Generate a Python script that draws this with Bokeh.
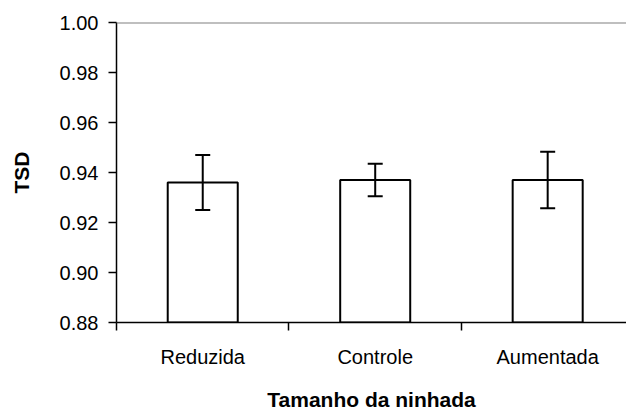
from bokeh.plotting import figure
from bokeh.models import (ColumnDataSource, FixedTicker, Whisker, TeeHead, Span,
                          Range1d, NumeralTickFormatter)
from bokeh.embed import file_html
from bokeh.resources import INLINE

categories = ["Reduzida", "Controle", "Aumentada"]
means = [0.936, 0.937, 0.937]
errors = [0.011, 0.0065, 0.0113]
y_ticks = [0.88, 0.90, 0.92, 0.94, 0.96, 0.98, 1.00]

xs = [i + 0.5 for i in range(len(categories))]
src = ColumnDataSource(dict(
    x=xs, top=means,
    upper=[m + e for m, e in zip(means, errors)],
    lower=[m - e for m, e in zip(means, errors)],
))

FONT = "Liberation Sans"

p = figure(width=626, height=413, output_backend="svg", toolbar_location=None,
           x_range=Range1d(0, 2.957), y_range=Range1d(0.88, 1.00),
           min_border_left=116, min_border_right=0, min_border_top=22,
           min_border_bottom=91)
p.outline_line_color = None
p.xgrid.visible = False
p.ygrid.visible = False
p.background_fill_color = "white"
p.border_fill_color = "white"

p.vbar(x="x", top="top", bottom=0.88, width=0.406, source=src,
       fill_color="white", line_color="black", line_width=2)

w = Whisker(base="x", upper="upper", lower="lower", source=src, level="overlay",
            line_color="black", line_width=2,
            upper_head=TeeHead(size=15, line_color="black", line_width=2),
            lower_head=TeeHead(size=15, line_color="black", line_width=2))
p.add_layout(w)

p.add_layout(Span(location=1.00, dimension="width", line_color="#808080",
                  line_width=2))

# y axis
ya = p.yaxis[0]
ya.ticker = FixedTicker(ticks=y_ticks)
ya.formatter = NumeralTickFormatter(format="0.00")
ya.major_tick_out = 8
ya.major_tick_in = 0
ya.minor_tick_out = 0
ya.minor_tick_in = 0
ya.axis_line_color = "black"
ya.axis_line_width = 1.5
ya.major_tick_line_width = 1.5
ya.major_label_standoff = 10
ya.major_label_text_font = FONT
ya.major_label_text_font_size = "20px"
ya.major_label_text_color = "black"
ya.axis_label = "TSD"
ya.axis_label_text_font = FONT
ya.axis_label_text_font_size = "21px"
ya.axis_label_text_font_style = "bold"
ya.axis_label_text_color = "black"
ya.axis_label_standoff = 24

# x axis
xa = p.xaxis[0]
xa.ticker = FixedTicker(ticks=xs, minor_ticks=[0, 1, 2, 3])
xa.major_label_overrides = {x: c for x, c in zip(xs, categories)}
xa.major_tick_out = 0
xa.major_tick_in = 0
xa.minor_tick_out = 8
xa.minor_tick_in = 0
xa.minor_tick_line_color = "black"
xa.minor_tick_line_width = 1.5
xa.axis_line_color = "black"
xa.axis_line_width = 1.5
xa.major_label_standoff = 15
xa.major_label_text_font = FONT
xa.major_label_text_font_size = "20px"
xa.major_label_text_color = "black"
xa.axis_label = "Tamanho da ninhada"
xa.axis_label_text_font = FONT
xa.axis_label_text_font_size = "21px"
xa.axis_label_text_font_style = "bold"
xa.axis_label_text_color = "black"
xa.axis_label_standoff = 17

open("out.html", "w").write(file_html(p, INLINE))
